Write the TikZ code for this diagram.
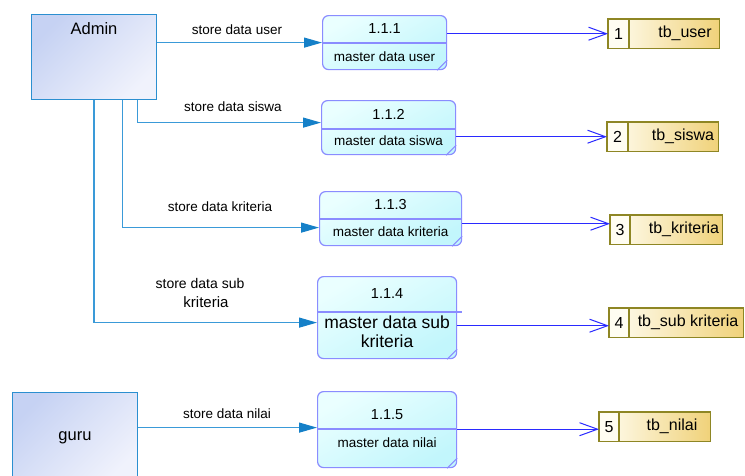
\documentclass[tikz,border=0pt]{standalone}
\usepackage{fontspec}
\setmainfont{Liberation Sans}
\usetikzlibrary{arrows.meta,calc}
\definecolor{entborder}{HTML}{2B8FD0}
\definecolor{entA}{HTML}{C6D2F3}
\definecolor{entB}{HTML}{F0F2FC}
\definecolor{eline}{HTML}{3A9AD8}
\definecolor{ehead}{HTML}{1580C8}
\definecolor{procborder}{HTML}{8A8CFF}
\definecolor{procA}{HTML}{EAFFFF}
\definecolor{procB}{HTML}{C2F6FC}
\definecolor{sline}{HTML}{2A2AFF}
\definecolor{stborder}{HTML}{8E8624}
\definecolor{stA}{HTML}{FFFDF2}
\definecolor{stB}{HTML}{F0D27A}
\tikzset{
  entity/.style={draw=entborder, line width=1pt, top color=entA, bottom color=entB, shading angle=45, anchor=north west, inner sep=0pt},
  proc/.style={draw=procborder, line width=1.2pt, rounded corners=6pt, top color=procA, bottom color=procB, shading angle=30, anchor=north west, inner sep=0pt},
  store/.style={left color=stA, right color=stB, anchor=north west, inner sep=0pt},
  stedge/.style={draw=stborder, line width=1.3pt},
  eflow/.style={draw=eline, line width=1.1pt, -{Triangle[length=18pt,width=10pt,color=ehead]}},
  sflow/.style={draw=sline, line width=1pt, -{Straight Barb[length=18pt,width=13pt,line width=1pt]}},
  lbl/.style={font=\fontsize{13.5}{15}\selectfont, inner sep=0pt},
  ttl/.style={font=\fontsize{14.5}{16}\selectfont, inner sep=0pt},
  sub/.style={font=\fontsize{13.5}{15}\selectfont, inner sep=0pt},
  stxt/.style={font=\fontsize{16}{18}\selectfont, inner sep=0pt},
  etxt/.style={font=\fontsize{16.5}{18}\selectfont, inner sep=0pt},
}
\newcommand\storebox[5]{% name, divider offset, number, text offset, text
  \fill[stA] (#1.north west) rectangle ($(#1.south west)+(#2,0)$);
  \draw[stedge] (#1.north west) rectangle (#1.south east);
  \draw[stedge] ($(#1.north west)+(#2,0)$) -- ($(#1.south west)+(#2,0)$);
  \node[stxt] at ($(#1.west)+(#2/2,0)$) {#3};
  \node[stxt] at ($(#1.west)+(#4,0)$) {#5};
}
\begin{document}
\begin{tikzpicture}[x=1pt,y=-1pt]
\useasboundingbox (0,0) rectangle (745,475);
\fill[white] (0,0) rectangle (745,475);

% entities
\node[entity, minimum width=125pt, minimum height=85pt] (admin) at (31,14) {};
\node[etxt] (admintxt) at ($(admin.north)+(0,15)$) {Admin};
\node[entity, minimum width=125pt, minimum height=90pt] (guru) at (12,392) {};
\node[etxt] (gurutxt) at (guru.center) {guru};

% processes
\node[proc, minimum width=124pt, minimum height=54pt] (p1) at (322,15) {};
\draw[procborder, line width=1.1pt] ($(p1.north west)+(0,28)$) -- ($(p1.north east)+(0,28)$);
\node[ttl] at ($(p1.north)+(0,14)$) {1.1.1};
\node[sub] at ($(p1.north)+(0,42)$) {master data user};

\node[proc, minimum width=134pt, minimum height=54pt] (p2) at (321,100) {};
\draw[procborder, line width=1.1pt] ($(p2.north west)+(0,29)$) -- ($(p2.north east)+(0,29)$);
\node[ttl] at ($(p2.north)+(0,14)$) {1.1.2};
\node[sub] at ($(p2.north)+(0,41)$) {master data siswa};

\node[proc, minimum width=142pt, minimum height=54pt] (p3) at (319,191) {};
\draw[procborder, line width=1.1pt] ($(p3.north west)+(0,28)$) -- ($(p3.north east)+(0,28)$);
\node[ttl] at ($(p3.north)+(0,14)$) {1.1.3};
\node[sub] at ($(p3.north)+(0,41)$) {master data kriteria};

\node[proc, minimum width=139pt, minimum height=82pt] (p4) at (317,276) {};
\draw[procborder, line width=1.1pt] ($(p4.north west)+(0,36)$) -- ($(p4.north east)+(5,36)$);
\node[ttl] at ($(p4.north)+(0,18)$) {1.1.4};
\node[font=\fontsize{17.5}{19}\selectfont, inner sep=0pt] at ($(p4.north)+(0,46)$) {master data sub};
\node[font=\fontsize{17.5}{19}\selectfont, inner sep=0pt] at ($(p4.north)+(0,65)$) {kriteria};

\node[proc, minimum width=139pt, minimum height=76pt] (p5) at (317,391) {};
\draw[procborder, line width=1.1pt] ($(p5.north west)+(0,38)$) -- ($(p5.north east)+(0,38)$);
\node[ttl] at ($(p5.north)+(0,24)$) {1.1.5};
\node[sub] at ($(p5.north)+(0,52)$) {master data nilai};

% corner marks
\foreach \p in {p1,p2,p3,p4,p5}{
  \draw[procborder, line width=1pt] ($(\p.south east)+(-10,0)$) -- ($(\p.south east)+(0,-10)$);
}

% stores
\node[store, minimum width=111pt, minimum height=29pt] (s1) at (608,19) {};
\storebox{s1}{21}{1}{77}{tb\_user}
\node[store, minimum width=111pt, minimum height=29pt] (s2) at (607,122) {};
\storebox{s2}{21}{2}{76}{tb\_siswa}
\node[store, minimum width=112pt, minimum height=29pt] (s3) at (610,215) {};
\storebox{s3}{20}{3}{74}{tb\_kriteria}
\node[store, minimum width=134pt, minimum height=29pt] (s4) at (609,308) {};
\storebox{s4}{20}{4}{79}{tb\_sub kriteria}
\node[store, minimum width=111pt, minimum height=29pt] (s5) at (599,412) {};
\storebox{s5}{20}{5}{73}{tb\_nilai}

% entity flows
\coordinate (a2) at ($(p2.west)+(0,-5)$);
\coordinate (a3) at ($(p3.west)+(0,9)$);
\coordinate (a4) at ($(p4.west)+(0,5)$);
\coordinate (a5) at ($(p5.west)+(0,-2)$);
\draw[eflow] (admin.east |- p1.west) -- (p1.west);
\draw[eflow] ($(admin.south)+(43.5,0)$) |- (a2);
\draw[eflow] ($(admin.south)+(28.5,0)$) |- (a3);
\draw[eflow] (admin.south) |- (a4);
\draw[eflow] (guru.east |- a5) -- (a5);

% store flows
\coordinate (b3) at ($(s3.west)+(0,-6)$);
\coordinate (b4) at ($(s4.west)+(0,3)$);
\coordinate (b5) at ($(s5.west)+(0,2.5)$);
\draw[sflow] (p1.east |- s1.west) -- (s1.west);
\draw[sflow] (p2.east |- s2.west) -- (s2.west);
\draw[sflow] (p3.east |- b3) -- (b3);
\draw[sflow] (p4.east |- b4) -- (b4);
\draw[sflow] (p5.east |- b5) -- (b5);

% labels
\node[lbl] (l1) at (237,30) {store data user};
\node[lbl] (l2) at (233,107) {store data siswa};
\node[lbl] (l3) at (220,207) {store data kriteria};
\node[lbl, font=\fontsize{14}{16}\selectfont] (l4a) at (200,283) {store data sub};
\node[lbl, font=\fontsize{15}{16}\selectfont] (l4b) at (206,302) {kriteria};
\node[lbl] (l5) at (227,414) {store data nilai};
\end{tikzpicture}
\end{document}
